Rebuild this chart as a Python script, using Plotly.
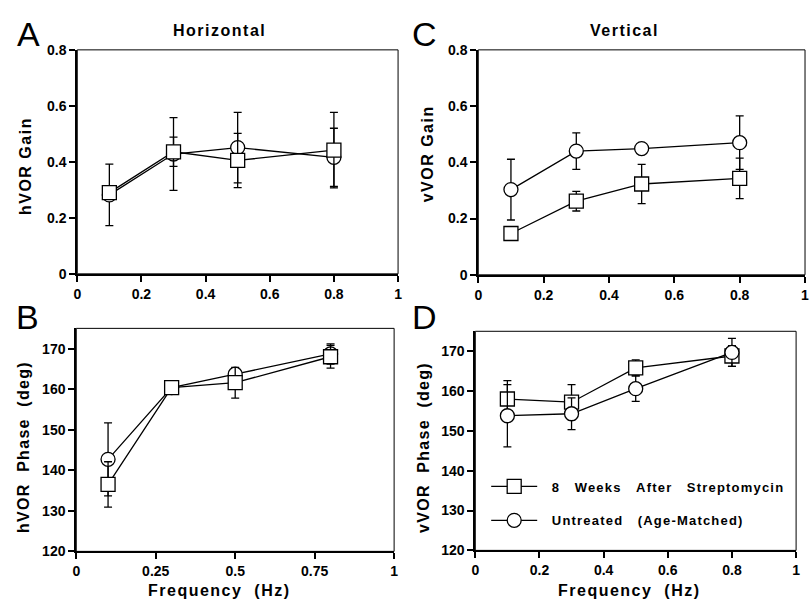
import plotly.graph_objects as go

# ---------------- data ----------------
freq = [0.1, 0.3, 0.5, 0.8]

# Panel A: horizontal VOR gain
strep_h_gain = [0.290, 0.436, 0.405, 0.442]
strep_h_gain_err = [0.020, 0.052, 0.097, 0.135]
ctrl_h_gain = [0.282, 0.428, 0.451, 0.416]
ctrl_h_gain_err = [0.110, 0.130, 0.126, 0.104]

# Panel C: vertical VOR gain
strep_v_gain = [0.147, 0.262, 0.323, 0.343]
strep_v_gain_err = [0.015, 0.035, 0.070, 0.072]
ctrl_v_gain = [0.303, 0.440, 0.449, 0.470]
ctrl_v_gain_err = [0.108, 0.065, 0.015, 0.095]

# Panel B: horizontal VOR phase
strep_h_phase = [136.5, 160.4, 161.6, 168.0]
strep_h_phase_err = [5.6, 1.0, 3.8, 2.8]
ctrl_h_phase = [142.7, 160.4, 163.7, 168.7]
ctrl_h_phase_err = [9.0, 1.0, 1.2, 2.5]

# Panel D: vertical VOR phase
strep_v_phase = [158.0, 157.2, 165.8, 168.8]
strep_v_phase_err = [4.6, 4.4, 2.0, 2.6]
ctrl_v_phase = [153.8, 154.3, 160.6, 169.7]
ctrl_v_phase_err = [7.8, 4.0, 3.2, 3.5]

gain_ticks = [0, 0.2, 0.4, 0.6, 0.8]
gain_ticklabels = ["0", "0.2", "0.4", "0.6", "0.8"]
phase_ticks = [120, 130, 140, 150, 160, 170]
phase_ticklabels = ["120", "130", "140", "150", "160", "170"]
freq_ticks = [0, 0.2, 0.4, 0.6, 0.8, 1]
freq_ticklabels = ["0", "0.2", "0.4", "0.6", "0.8", "1"]
freq_ticks_b = [0, 0.25, 0.5, 0.75, 1]
freq_ticklabels_b = ["0", "0.25", "0.5", "0.75", "1"]

legend_strep_words = ["8", "Weeks", "After", "Streptomycin"]
legend_ctrl_words = ["Untreated", "(Age-Matched)"]

NB = "\u00a0"
FONT = "Liberation Sans, Arial, Helvetica, sans-serif"
BOLD = dict(family=FONT, size=14, color="black", weight=700)


def spaced(s, px):
    return f"<span style='letter-spacing:{px}px'>{s}</span>"


legend_strep = spaced(NB * 2 + (NB * 3).join(legend_strep_words), 1.2)
legend_ctrl = spaced(NB * 2 + (NB * 3).join(legend_ctrl_words), 1.2)


def trace(x, y, err, sym, xa, ya, name=None, show=False, group=None):
    return go.Scatter(
        x=x, y=y, xaxis=xa, yaxis=ya, mode="lines+markers",
        name=name, showlegend=show, legendgroup=group,
        line=dict(color="black", width=1.3),
        marker=dict(symbol=sym, size=14, color="white",
                    line=dict(color="black", width=1.3)),
        error_y=dict(type="data", array=err, visible=True, color="black",
                     thickness=1.3, width=4),
        cliponaxis=False,
    )


fig = go.Figure()
# A
fig.add_trace(trace(freq, ctrl_h_gain, ctrl_h_gain_err, "circle", "x", "y"))
fig.add_trace(trace(freq, strep_h_gain, strep_h_gain_err, "square", "x", "y"))
# C
fig.add_trace(trace(freq, ctrl_v_gain, ctrl_v_gain_err, "circle", "x2", "y2"))
fig.add_trace(trace(freq, strep_v_gain, strep_v_gain_err, "square", "x2", "y2"))
# B
fig.add_trace(trace(freq, ctrl_h_phase, ctrl_h_phase_err, "circle", "x3", "y3"))
fig.add_trace(trace(freq, strep_h_phase, strep_h_phase_err, "square", "x3", "y3"))
# D
fig.add_trace(trace(freq, strep_v_phase, strep_v_phase_err, "square", "x4", "y4",
                    name=legend_strep, show=True, group="sq"))
fig.add_trace(trace(freq, ctrl_v_phase, ctrl_v_phase_err, "circle", "x4", "y4",
                    name=legend_ctrl, show=True, group="ci"))

W, H = 811, 610


def px_x(a, b):
    return [a / W, b / W]


def px_y(top, bottom):
    return [1 - bottom / H, 1 - top / H]


axis_common = dict(
    showline=True, linecolor="black", linewidth=2, mirror=False,
    ticks="outside", ticklen=6, tickwidth=1.5, tickcolor="black",
    showgrid=False, zeroline=False, tickfont=BOLD, tickmode="array",
)

fig.update_layout(
    width=W, height=H,
    margin=dict(l=0, r=0, t=0, b=0),
    paper_bgcolor="white", plot_bgcolor="white",
    font=dict(family=FONT, color="black"),
    xaxis=dict(domain=px_x(74, 398), anchor="y", range=[0, 1],
               tickvals=freq_ticks, ticktext=freq_ticklabels, **axis_common),
    yaxis=dict(domain=px_y(43, 273), anchor="x", range=[0, 0.8],
               tickvals=gain_ticks, ticktext=gain_ticklabels, **axis_common),
    xaxis2=dict(domain=px_x(479, 809), anchor="y2", range=[0, 1],
                tickvals=freq_ticks, ticktext=freq_ticklabels, **axis_common),
    yaxis2=dict(domain=px_y(43, 274), anchor="x2", range=[0, 0.8],
                tickvals=gain_ticks, ticktext=gain_ticklabels, **axis_common),
    xaxis3=dict(domain=px_x(73, 394), anchor="y3", range=[0, 1],
                tickvals=freq_ticks_b, ticktext=freq_ticklabels_b, **axis_common),
    yaxis3=dict(domain=px_y(329, 558), anchor="x3", range=[120, 175],
                tickvals=phase_ticks, ticktext=phase_ticklabels, **axis_common),
    xaxis4=dict(domain=px_x(476, 800), anchor="y4", range=[0, 1],
                tickvals=freq_ticks, ticktext=freq_ticklabels, **axis_common),
    yaxis4=dict(domain=px_y(332, 557), anchor="x4", range=[120, 175],
                tickvals=phase_ticks, ticktext=phase_ticklabels, **axis_common),
    legend=dict(
        x=487 / W, y=1 - 476 / H, xanchor="left", yanchor="top",
        bgcolor="rgba(0,0,0,0)", borderwidth=0,
        font=dict(family=FONT, size=13, color="black", weight=700),
        itemwidth=46, traceorder="grouped", tracegroupgap=14,
        itemclick=False, itemdoubleclick=False,
    ),
)

# thin box around each panel
for xa, ya in [("x", "y"), ("x2", "y2"), ("x3", "y3"), ("x4", "y4")]:
    fig.add_shape(type="rect", xref=f"{xa} domain", yref=f"{ya} domain",
                  x0=0, x1=1, y0=0, y1=1, line=dict(color="black", width=1),
                  layer="below")

annots = [
    # panel letters
    dict(text="A", x=11 / W, y=1 - 26.5 / H, xanchor="left", size=34, bold=False, ls=0),
    dict(text="C", x=410 / W, y=1 - 26.5 / H, xanchor="left", size=34, bold=False, ls=0),
    dict(text="B", x=10 / W, y=1 - 317.5 / H, xanchor="left", size=34, bold=False, ls=0),
    dict(text="D", x=410 / W, y=1 - 317.5 / H, xanchor="left", size=34, bold=False, ls=0),
    # panel titles
    dict(text="Horizontal", x=218 / W, y=1 - 23 / H, size=16, bold=True, ls=1.5),
    dict(text="Vertical", x=627 / W, y=1 - 23 / H, size=16, bold=True, ls=1.5),
    # axis titles
    dict(text="hVOR Gain", x=21.5 / W, y=1 - 162 / H, size=16, bold=True, angle=-90, ls=1.5),
    dict(text="vVOR Gain", x=427.5 / W, y=1 - 150 / H, size=16, bold=True, angle=-90, ls=1.5),
    dict(text="hVOR  Phase  (deg)", x=19 / W, y=1 - 451 / H, size=16, bold=True, angle=-90, ls=1.3),
    dict(text="vVOR  Phase  (deg)", x=423 / W, y=1 - 451 / H, size=16, bold=True, angle=-90, ls=1.3),
    dict(text="Frequency  (Hz)", x=218 / W, y=1 - 598.5 / H, size=16, bold=True, ls=1.5),
    dict(text="Frequency  (Hz)", x=632 / W, y=1 - 598.5 / H, size=16, bold=True, ls=1.5),
]
for a in annots:
    txt = a["text"].replace("  ", NB + NB)
    if a["ls"]:
        txt = spaced(txt, a["ls"])
    fig.add_annotation(
        text=txt, xref="paper", yref="paper",
        x=a["x"], y=a["y"], xanchor=a.get("xanchor", "center"), yanchor="middle",
        showarrow=False, textangle=a.get("angle", 0),
        font=dict(family=FONT, size=a["size"], color="black",
                  weight=700 if a["bold"] else 400),
    )

post = """
document.documentElement.style.margin = '0';
document.body.style.margin = '0';
document.body.style.overflow = 'hidden';
"""

fig.write_html("out.html", post_script=post, config={"displayModeBar": False})
